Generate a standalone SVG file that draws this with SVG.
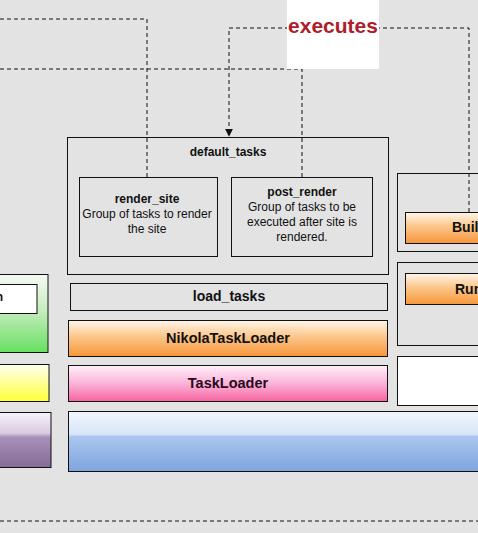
<svg xmlns="http://www.w3.org/2000/svg" width="478" height="533" viewBox="0 0 478 533">
<defs>
<style>
.box{fill:none;stroke:#111;stroke-width:1}
.t{font-family:"Liberation Sans",Arial,sans-serif;fill:#111}
.b{font-weight:bold}
.dash{fill:none;stroke:#111;stroke-width:1;stroke-dasharray:4,3}
</style>
<linearGradient id="gOrange" x1="0" y1="0" x2="0" y2="1">
<stop offset="0" stop-color="#fff6ea"/><stop offset="0.45" stop-color="#fcc68a"/><stop offset="1" stop-color="#f6963a"/>
</linearGradient>
<linearGradient id="gPink" x1="0" y1="0" x2="0" y2="1">
<stop offset="0" stop-color="#fff0f8"/><stop offset="0.5" stop-color="#fbb3da"/><stop offset="1" stop-color="#f7649f"/>
</linearGradient>
<linearGradient id="gBlue" x1="0" y1="0" x2="0" y2="1">
<stop offset="0" stop-color="#f3f7fd"/><stop offset="0.38" stop-color="#d6e5f7"/><stop offset="0.42" stop-color="#aac6ee"/><stop offset="1" stop-color="#7ea5e0"/>
</linearGradient>
<linearGradient id="gGreen" x1="0" y1="0" x2="0" y2="1">
<stop offset="0" stop-color="#f6faf4"/><stop offset="0.45" stop-color="#c8ecc0"/><stop offset="1" stop-color="#66e060"/>
</linearGradient>
<linearGradient id="gYellow" x1="0" y1="0" x2="0" y2="1">
<stop offset="0" stop-color="#fffff0"/><stop offset="1" stop-color="#ffff3a"/>
</linearGradient>
<linearGradient id="gPurple" x1="0" y1="0" x2="0" y2="1">
<stop offset="0" stop-color="#f8f4fa"/><stop offset="0.38" stop-color="#d8c8e0"/><stop offset="0.45" stop-color="#a890b8"/><stop offset="1" stop-color="#856c98"/>
</linearGradient>
<marker id="arr" viewBox="0 0 10 10" refX="9" refY="5" markerWidth="8" markerHeight="8" orient="auto" markerUnits="userSpaceOnUse">
<path d="M0,0 L10,5 L0,10 z" fill="#111"/>
</marker>
</defs>
<rect x="0" y="0" width="478" height="533" fill="#e3e3e3"/>

<g id="connectors">
<path class="dash" d="M0,19 H147 V177"/>
<path class="dash" d="M0,69 H302 V177"/>
<path class="dash" d="M469,212 V28 H229 V136" marker-end="url(#arr)"/>
<path class="dash" d="M0,521 H478"/>
</g>

<g id="executes-label">
<rect x="287" y="0" width="92" height="69" fill="#ffffff"/>
<text class="t b" x="333" y="33" font-size="21" text-anchor="middle" style="fill:#b01c2a">executes</text>
</g>

<g id="default_tasks">
<rect class="box" x="67.5" y="137.5" width="321" height="137" fill="#e3e3e3"/>
<text class="t b" x="228" y="156" font-size="12" text-anchor="middle">default_tasks</text>
</g>

<g id="render_site">
<rect class="box" x="79.5" y="177.5" width="138" height="79"/>
<text class="t b" x="147" y="203" font-size="12" text-anchor="middle">render_site</text>
<text class="t" x="147" y="218" font-size="12" text-anchor="middle">Group of tasks to render</text>
<text class="t" x="147" y="233" font-size="12" text-anchor="middle">the site</text>
</g>

<g id="post_render">
<rect class="box" x="231.5" y="177.5" width="141" height="79"/>
<text class="t b" x="302" y="196" font-size="12" text-anchor="middle">post_render</text>
<text class="t" x="302" y="211" font-size="12" text-anchor="middle">Group of tasks to be</text>
<text class="t" x="302" y="226" font-size="12" text-anchor="middle">executed after site is</text>
<text class="t" x="302" y="241" font-size="12" text-anchor="middle">rendered.</text>
</g>

<g id="load_tasks">
<rect class="box" x="70.5" y="283.5" width="317" height="27"/>
<text class="t b" x="229" y="301" font-size="14" text-anchor="middle">load_tasks</text>
</g>

<g id="NikolaTaskLoader">
<rect x="68.5" y="320.5" width="319" height="36" fill="url(#gOrange)" stroke="#111"/>
<text class="t b" x="228" y="343" font-size="14.5" text-anchor="middle">NikolaTaskLoader</text>
</g>

<g id="TaskLoader">
<rect x="68.5" y="365.5" width="319" height="36" fill="url(#gPink)" stroke="#111"/>
<text class="t b" x="228" y="388" font-size="14.5" text-anchor="middle" style="fill:#2a0a1a">TaskLoader</text>
</g>

<g id="blue-bar">
<rect x="68.5" y="411.5" width="420" height="60" fill="url(#gBlue)" stroke="#111"/>
</g>

<g id="green-box">
<rect x="-5" y="274.5" width="53" height="78" fill="url(#gGreen)" stroke="#111"/>
<rect x="-5" y="284.5" width="42" height="29" fill="#ffffff" stroke="#111"/>
<text class="t b" x="3" y="301" font-size="12" text-anchor="end">n</text>
</g>

<g id="yellow-box">
<rect x="-5" y="364.5" width="54" height="37" fill="url(#gYellow)" stroke="#111"/>
</g>

<g id="purple-box">
<rect x="-5" y="412.5" width="56" height="55" fill="url(#gPurple)" stroke="#111"/>
</g>

<g id="build-group">
<rect class="box" x="397.5" y="173.5" width="90" height="78"/>
<rect x="405.5" y="212.5" width="80" height="31" fill="url(#gOrange)" stroke="#111"/>
<text class="t b" x="452" y="232" font-size="14">Build</text>
</g>

<g id="run-group">
<rect class="box" x="397.5" y="262.5" width="90" height="83"/>
<rect x="405.5" y="273.5" width="80" height="31" fill="url(#gOrange)" stroke="#111"/>
<text class="t b" x="455" y="294" font-size="14">Run</text>
</g>

<g id="white-box">
<rect x="397.5" y="356.5" width="90" height="49" fill="#ffffff" stroke="#111"/>
</g>
</svg>
